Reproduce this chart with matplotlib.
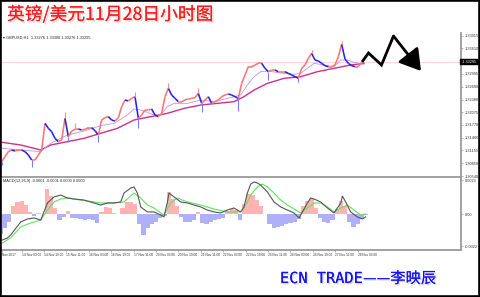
import numpy as np
import matplotlib
matplotlib.use('Agg')
import matplotlib.pyplot as plt
from matplotlib.collections import LineCollection
from matplotlib.patches import Rectangle, FancyArrowPatch
from matplotlib.lines import Line2D
import matplotlib.patheffects as pe

# ---------------- data ----------------
close = [1.30885, 1.31005, 1.31126, 1.31166, 1.31142, 1.31166, 1.31166, 1.31126, 1.31045, 1.30925,
         1.30925, 1.31045, 1.31166, 1.31807, 1.31687, 1.31607, 1.31446, 1.31366, 1.31406, 1.31928,
         1.31486, 1.31623, 1.31663, 1.31671, 1.31647, 1.31663, 1.31703, 1.31703, 1.31631, 1.31527,
         1.31887, 1.31944, 1.31968, 1.31887, 1.31863, 1.31944, 1.32208, 1.32369, 1.32345, 1.32409,
         1.32449, 1.31928, 1.32008, 1.32128, 1.32128, 1.32152, 1.32008, 1.31968, 1.32048, 1.32449,
         1.32649, 1.32489, 1.32409, 1.32329, 1.32329, 1.32369, 1.32393, 1.32409, 1.32425, 1.32529,
         1.32288, 1.32369, 1.32449, 1.32288, 1.32329, 1.32369, 1.32449, 1.32489, 1.32513, 1.32489,
         1.32449, 1.32409, 1.32770, 1.32970, 1.33171, 1.33171, 1.33211, 1.33251, 1.33251, 1.33131,
         1.33050, 1.33090, 1.33090, 1.33050, 1.33050, 1.33050, 1.33010, 1.32970, 1.32930, 1.32890,
         1.33131, 1.33211, 1.33371, 1.33491, 1.33331, 1.33307, 1.33251, 1.33195, 1.33171, 1.33171,
         1.33211, 1.33411, 1.33708, 1.33355, 1.33251, 1.33195, 1.33171, 1.33171, 1.33275]
wick_idx = [0, 9, 19, 20, 22, 29, 40, 41, 50, 59, 60, 71, 80, 89, 93, 102]
wick_end = [1.30805, 1.30765, 1.32088, 1.31366, 1.31807, 1.31366, 1.32553, 1.31687, 1.32770,
            1.32649, 1.32072, 1.32104, 1.32850, 1.32794, 1.33572, 1.33788]

ma_fast_x = [1.2, 14.3, 28.6, 35.7, 47.6, 59.5, 71.4, 81.0, 90.5, 95.2, 100.0, 104.8, 109.5,
             114.3, 119.0, 123.8, 133.3, 142.9, 152.4, 166.7, 171.4, 176.2, 181.0, 185.7, 190.5,
             202.4, 209.5, 214.3, 219.0, 223.8, 231.0, 238.1, 242.9, 247.6, 252.4, 259.5]
ma_fast = [1.31206, 1.31166, 1.31126, 1.31326, 1.31527, 1.31623, 1.31751, 1.31807, 1.32008,
           1.32152, 1.32128, 1.32072, 1.32008, 1.32008, 1.32208, 1.32288, 1.32288, 1.32369,
           1.32329, 1.32449, 1.32489, 1.32730, 1.32930, 1.33050, 1.33066, 1.33010, 1.32986,
           1.33010, 1.33131, 1.33251, 1.33211, 1.33171, 1.33331, 1.33331, 1.33275, 1.33227]
ma_slow_x = [1.2, 14.3, 28.6, 35.7, 47.6, 59.5, 71.4, 83.3, 95.2, 107.1, 119.0, 131.0, 142.9,
             154.8, 166.7, 173.8, 181.0, 190.5, 202.4, 214.3, 226.2, 238.1, 250.0, 259.5]
ma_slow = [1.31350, 1.31286, 1.31166, 1.31286, 1.31366, 1.31446, 1.31567, 1.31687, 1.31887,
           1.31968, 1.32048, 1.32168, 1.32248, 1.32288, 1.32329, 1.32449, 1.32609, 1.32770,
           1.32890, 1.32930, 1.33050, 1.33131, 1.33211, 1.33251]
current_price = 1.33295
price_ticks = [1.30540, 1.30850, 1.31155, 1.31460, 1.31770, 1.32075, 1.32380, 1.32690,
               1.32995, 1.33610, 1.33915]

# MACD values in units of 1e-4
hist_e4 = [-13.6, -9.5, -5.4, 5.4, 8.2, 8.8, 6.1, 1.4, -1.4, 0.7, 0, 17.0, 12.2, 4.1, -4.1, -2.0,
           2.0, -2.7, -2.7, -3.4, -4.1, -3.4, -4.1, -6.1, 1.4, 4.8, 4.1, 0.7, 0, 4.1, 8.2, 8.2,
           6.8, -6.8, -14.3, -9.5, -6.8, -5.4, -2.7, -1.4, 15.0, 10.2, 5.4, -2.0, -5.4, -5.4,
           -4.1, 1.4, -6.1, -6.8, -5.4, -4.1, -3.4, -2.7, 2.0, 3.4, 2.7, -4.1, 6.8, 13.6, 12.9,
           9.5, 5.4, 0, -6.8, -9.5, -8.8, -8.2, -6.8, -6.1, -5.4, -3.4, 5.4, 8.8, 10.2, 4.1,
           -2.7, -5.4, -6.1, -4.1, 3.4, 8.8, 5.4, -5.4, -8.8, -6.8, -3.4, -0.7]
macd_x = [1.2, 4.8, 7.1, 14.3, 19.1, 23.8, 28.6, 33.4, 38.1, 42.9, 47.6, 52.4, 59.5, 66.6, 71.4,
          76.2, 80.9, 85.7, 88.1, 92.9, 95.2, 97.6, 100.0, 104.8, 109.5, 114.3, 116.6, 119.1,
          120.2, 123.8, 128.6, 133.4, 138.1, 142.9, 147.6, 152.4, 157.1, 161.9, 166.6, 171.4,
          173.8, 176.2, 178.6, 180.9, 183.4, 185.7, 190.5, 195.2, 200.0, 204.8, 209.5, 213.1,
          214.3, 219.1, 221.4, 223.8, 228.6, 233.4, 238.1, 242.9, 244.1, 246.4, 250.0, 254.8,
          258.4, 260.7]
macd_e4 = [-17.7, -16.3, -14.3, -5.4, -3.4, -2.7, -4.1, 7.5, 11.6, 12.9, 10.9, 10.2, 9.5, 7.5,
           6.1, 7.5, 7.5, 8.2, 14.3, 17.7, 18.4, 14.3, 4.8, 1.4, 1.4, -0.7, -2.0, 8.2, 14.3, 11.6,
           8.2, 7.5, 6.1, 4.8, 2.7, 1.4, 0.7, 2.7, 4.1, 1.4, 4.8, 14.3, 20.4, 21.8, 21.1, 19.7,
           15.0, 8.2, 4.8, 2.7, 0.7, -2.7, -0.7, 7.5, 10.9, 10.2, 8.2, 4.1, 0.7, 7.5, 12.2, 8.2,
           1.4, -2.0, -3.4, -2.0]
signal_x = [1.2, 7.1, 14.3, 21.4, 28.6, 33.4, 38.1, 42.9, 47.6, 57.1, 66.6, 71.4, 80.9, 88.1,
            95.2, 100.0, 104.8, 109.5, 114.3, 116.6, 121.4, 126.2, 133.4, 142.9, 152.4, 161.9,
            171.4, 176.2, 178.6, 183.4, 186.9, 190.5, 195.2, 200.0, 204.8, 209.5, 214.3, 219.1,
            223.8, 228.6, 233.4, 238.1, 242.9, 247.6, 252.4, 257.1, 260.7]
signal_e4 = [-19.7, -16.3, -8.8, -6.1, -4.1, 2.7, 8.2, 10.2, 10.9, 9.5, 8.2, 7.5, 7.5, 8.2, 14.3,
             10.9, 6.1, 4.1, 0.7, -0.7, 7.5, 10.9, 8.2, 6.1, 3.4, 1.4, 1.4, 8.2, 12.9, 18.4, 20.4,
             18.4, 14.3, 9.5, 6.1, 3.4, 0.7, 4.1, 7.5, 7.5, 4.8, 1.4, 4.1, 6.1, 2.7, -0.7, 0.0]

time_labels = ['Nov 2017', '14 Nov 03:00', '14 Nov 19:00', '15 Nov 11:00', '16 Nov 03:00',
               '16 Nov 19:00', '17 Nov 11:00', '20 Nov 03:00', '20 Nov 19:00', '21 Nov 11:00',
               '22 Nov 03:00', '22 Nov 19:00', '23 Nov 11:00', '24 Nov 03:00', '24 Nov 19:00',
               '27 Nov 11:00', '28 Nov 03:00']
time_label_bars = [1] + [15 + 16 * k for k in range(16)]

# ---------------- figure ----------------
W, H = 480, 297
fig = plt.figure(figsize=(4.8, 2.97), dpi=100)
fig.patch.set_facecolor('white')
SMALL = 'Liberation Sans'


def fx(px):
    return px / W


def fy(py):
    return 1 - py / H


AX_R = 461
ax = fig.add_axes([0, fy(177), fx(AX_R), (177 - 33) / H])
ax2 = fig.add_axes([0, fy(250), fx(AX_R), (250 - 178) / H])

xlim = (-0.5, AX_R / 1.4 - 0.5)
grey = '#9a9a9a'
for a in (ax, ax2):
    a.set_xlim(*xlim)
    a.set_facecolor('white')
    a.spines['left'].set_visible(False)
    a.spines['top'].set_visible(False)
    a.spines['right'].set_color(grey)
    a.spines['right'].set_linewidth(1.3)
    a.spines['bottom'].set_color(grey)
    a.spines['bottom'].set_linewidth(1.3)
    a.yaxis.tick_right()
    a.tick_params(axis='y', length=1.5, width=0.5, colors=grey, labelcolor='#333333',
                  labelsize=2.8, pad=1)
    for lbl in a.get_yticklabels():
        lbl.set_family(SMALL)

# ---- price panel ----
ax.set_ylim(1.30516, 1.33981)
close_arr = np.array(close)
sample_x = (5 + 10 * np.arange(len(close))) / 4.2 - 0.5

ax.axhline(current_price, color='#ffd6dc', lw=0.8, zorder=1)

ax.plot(ma_slow_x, ma_slow, color='#d0308a', lw=1.0, zorder=3)
ax.plot(ma_fast_x, ma_fast, color='#c890e8', lw=0.6, zorder=3)

segs = [[(sample_x[i - 1], close_arr[i - 1]), (sample_x[i], close_arr[i])]
        for i in range(1, len(close_arr))]
cols = ['#ff7474' if close_arr[i] >= close_arr[i - 1] else '#2424e8'
        for i in range(1, len(close_arr))]
ax.add_collection(LineCollection(segs, colors=cols, linewidths=1.15, zorder=4))

wx = sample_x[wick_idx]
wbase = close_arr[wick_idx]
wcols = ['#ff8a8a' if e > b else '#7a7aff' for e, b in zip(wick_end, wbase)]
ax.vlines(wx, np.minimum(wbase, wick_end), np.maximum(wbase, wick_end), colors=wcols,
          lw=0.8, zorder=4)

ax.set_xticks([])
ax.set_yticks(price_ticks)
ax.set_yticklabels(['%.5f' % v for v in price_ticks], family=SMALL)

ax.text(1.0, current_price, ' %.5f ' % current_price, transform=ax.get_yaxis_transform(),
        fontsize=2.8, family=SMALL, color='white', va='center', ha='left', clip_on=False,
        zorder=10, bbox=dict(boxstyle='square,pad=0.15', fc='black', ec='black'))
ax.text(0.006, 0.985, '\u25BE GBPUSD,H1  1.33276 1.33300 1.33276 1.33295', transform=ax.transAxes,
        fontsize=2.8, family=[SMALL, 'DejaVu Sans'], color='#222222', va='top', ha='left')

# ---- MACD panel ----
ax2.set_ylim(-0.00245, 0.00245)
hist = np.array(hist_e4) * 1e-4
hx = 3 * np.arange(len(hist))
hcols = ['#ffb4b4' if v >= 0 else '#b0b0fa' for v in hist]
ax2.bar(hx, hist, width=3.0, color=hcols, linewidth=0, zorder=2)
ax2.plot(signal_x, np.array(signal_e4) * 1e-4, color='#5fe35f', lw=0.8, zorder=3)
ax2.plot(macd_x, np.array(macd_e4) * 1e-4, color='#555555', lw=0.8, zorder=4)
ax2.set_yticks([0.0023, 0.0, -0.0022])
ax2.set_yticklabels(['0.0023', '0.00', '-0.0022'], family=SMALL)
ax2.set_xticks(time_label_bars)
ax2.set_xticklabels(time_labels, family=SMALL)
ax2.tick_params(axis='x', length=1.5, width=0.5, colors=grey, labelcolor='#333333',
                labelsize=2.3, pad=1)
for lbl in ax2.get_xticklabels():
    lbl.set_ha('left')
ax2.text(0.006, 0.985, 'MACD(12,26,9) -0.0001 -0.0001 0.0000 0.0000', transform=ax2.transAxes,
         fontsize=2.8, family=SMALL, color='#222222', va='top', ha='left')

# ---- annotations ----
fig.text(fx(7), fy(14.5), '英镑/美元11月28日小时图', fontsize=12.8, color='#ff1a1a',
         family=['Noto Sans CJK SC', 'DejaVu Sans'], va='center', ha='left', fontweight='light',
         path_effects=[pe.withSimplePatchShadow(offset=(1.2, -1.2), shadow_rgbFace='#ecc4c4',
                                                 alpha=0.7), pe.Normal()])

shadow = [pe.withSimplePatchShadow(offset=(1.0, -1.0), shadow_rgbFace='#c8c8e8', alpha=0.7),
          pe.Normal()]
fig.text(fx(280), fy(278.5), 'ECN TRADE', fontsize=11, color='#1414f0',
         family='DejaVu Sans Mono', va='center', ha='left', path_effects=shadow)
fig.text(fx(363), fy(278.5), '——李映辰', fontsize=11, color='#1414f0',
         family=['Noto Sans CJK SC', 'DejaVu Sans'], va='center', ha='left', path_effects=shadow)

arrow_px = [(362, 62), (368.5, 53), (381.5, 65), (393.5, 36)]
fig.add_artist(Line2D([fx(p[0]) for p in arrow_px], [fy(p[1]) for p in arrow_px],
                      transform=fig.transFigure, color='black', lw=2.0,
                      solid_joinstyle='miter', solid_capstyle='butt'))
fig.add_artist(FancyArrowPatch((fx(393.5), fy(36)), (fx(421), fy(71)),
                               transform=fig.transFigure,
                               arrowstyle='-|>,head_length=0.9,head_width=0.55',
                               mutation_scale=14, color='black', lw=2.0,
                               shrinkA=0, shrinkB=0))

fig.add_artist(Rectangle((0, 0), 1, 1, transform=fig.transFigure, fill=False,
                         ec='black', lw=2.6))

fig.savefig('out.png', dpi=100)
